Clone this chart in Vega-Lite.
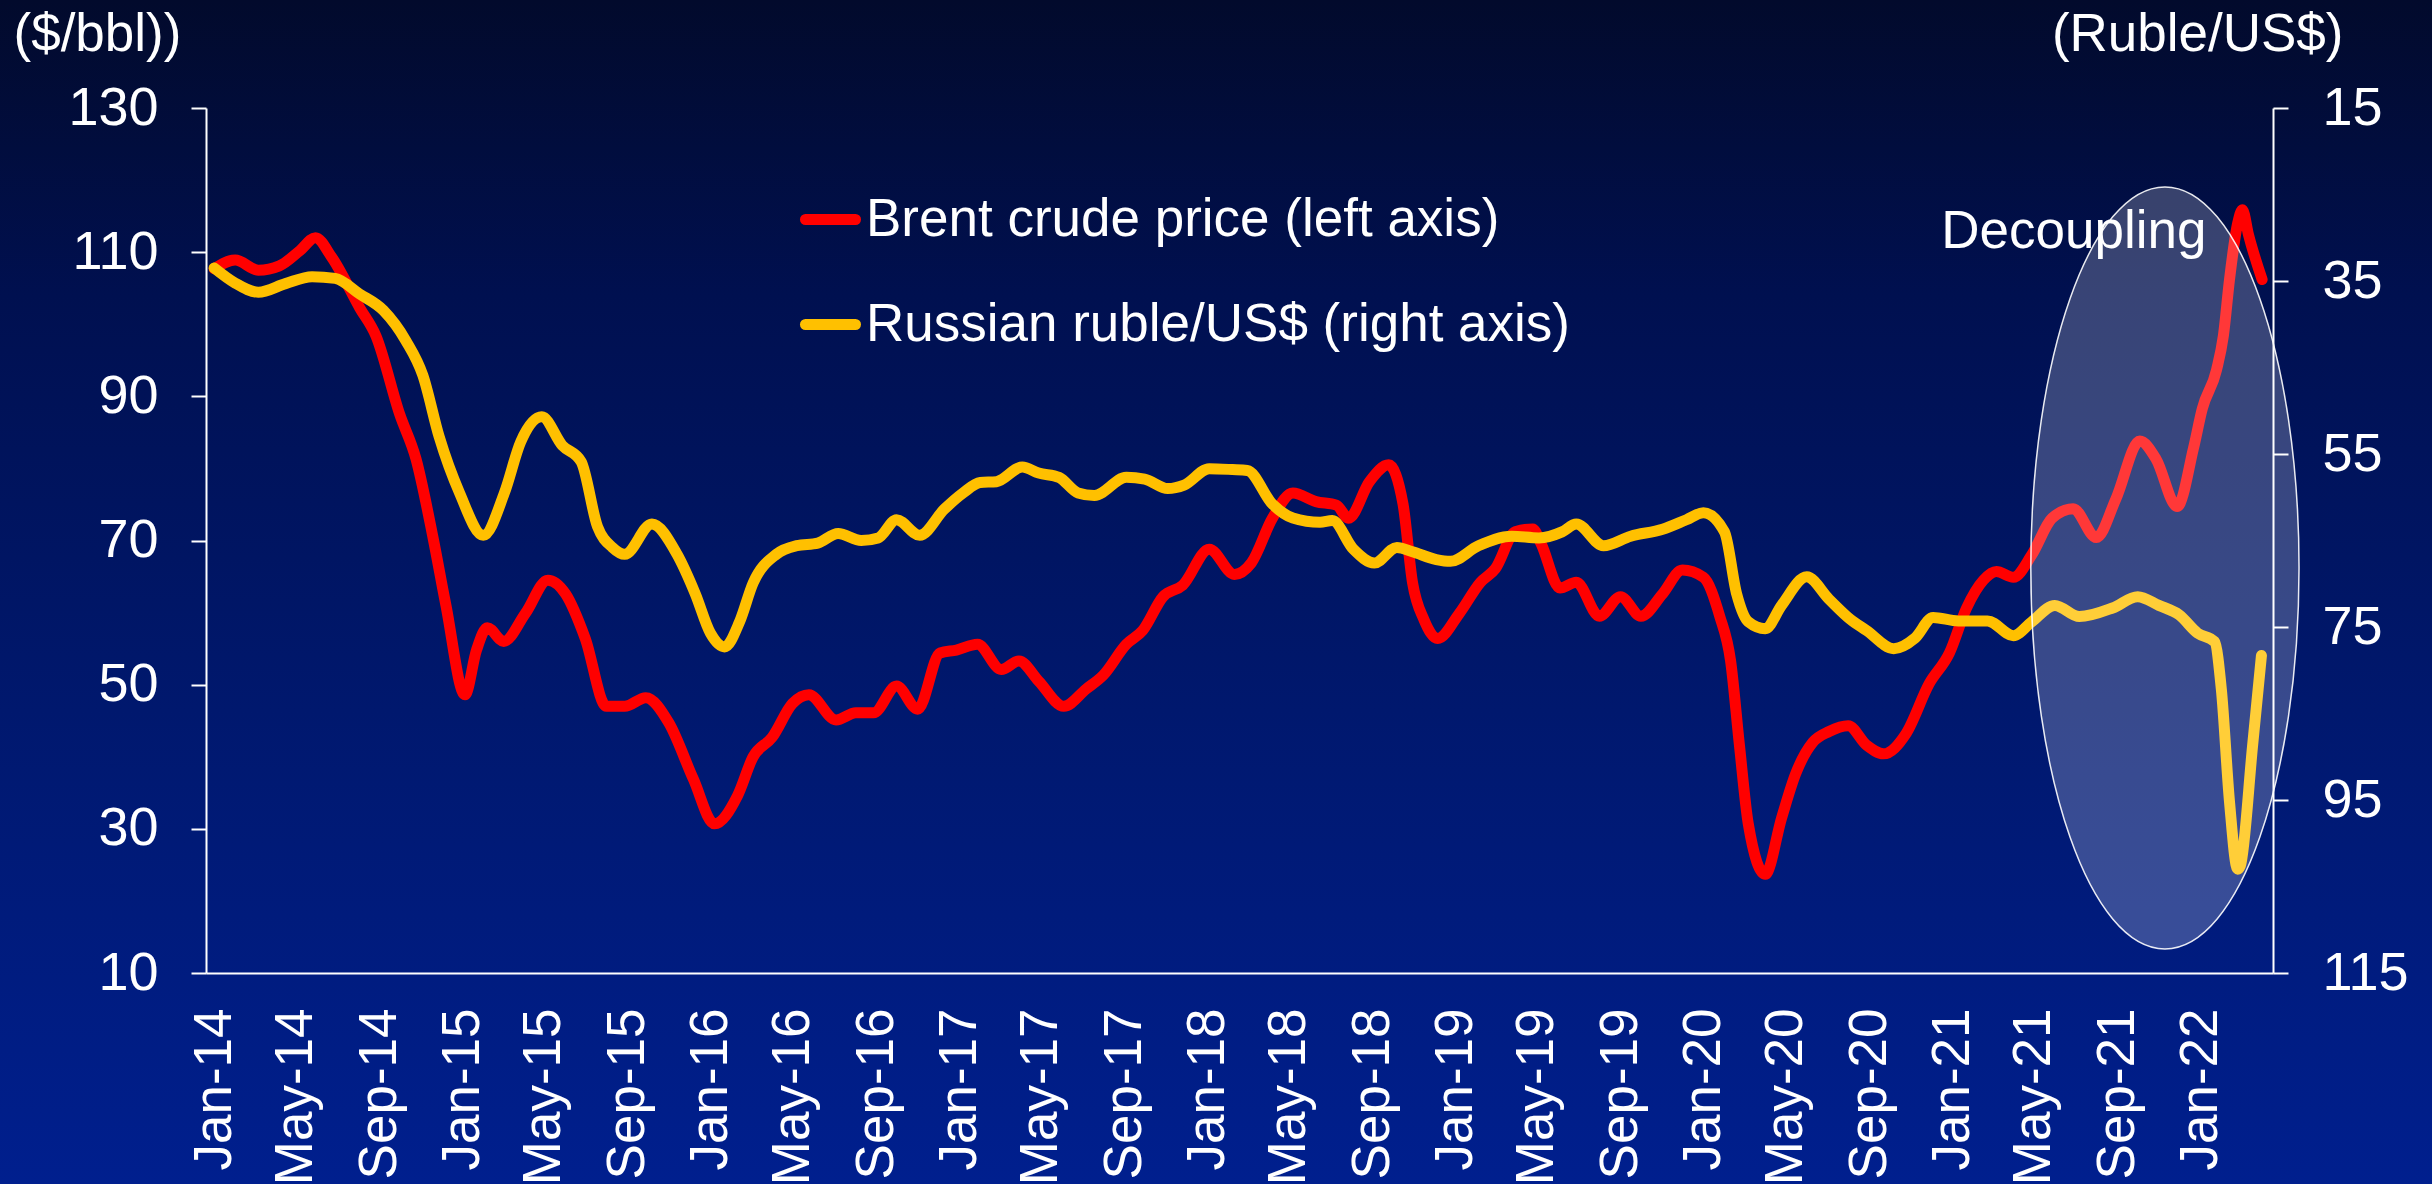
{
  "$schema": "https://vega.github.io/schema/vega-lite/v6.json",
  "width": 2067,
  "height": 865,
  "autosize": {"type": "none"},
  "padding": {"left": 206, "top": 108, "right": 159, "bottom": 211},
  "background": "#001050",
  "config": {
    "font": "Liberation Sans",
    "view": {"stroke": null},
    "axis": {
      "domainColor": "#ffffff", "domainWidth": 2,
      "tickColor": "#ffffff", "tickWidth": 2,
      "labelColor": "#ffffff", "labelFontSize": 53, "labelFont": "Liberation Sans",
      "titleColor": "#ffffff", "titleFontSize": 53, "titleFontWeight": "normal", "titleFont": "Liberation Sans",
      "grid": false, "labelOverlap": false, "labelFlush": false
    }
  },
  "datasets": {
    "bg": [{"x": "2012-06-01", "x2": "2023-12-01", "y": 150, "y2": -30}],
    "ellipse": [{"date": "2021-11-10", "value": 66.2}],
    "note": [{"date": "2020-12-16", "value": 110.6, "label": "Decoupling"}],
    "brent": [
      {"date": "2014-01-01", "value": 107.7}, {"date": "2014-02-01", "value": 108.9}, {"date": "2014-03-07", "value": 107.5},
      {"date": "2014-04-07", "value": 108.1}, {"date": "2014-05-07", "value": 110.2}, {"date": "2014-05-30", "value": 112.0},
      {"date": "2014-06-23", "value": 109.3}, {"date": "2014-08-03", "value": 102.3}, {"date": "2014-08-27", "value": 98.4},
      {"date": "2014-10-01", "value": 87.5}, {"date": "2014-10-25", "value": 81.3}, {"date": "2014-11-19", "value": 70.4},
      {"date": "2014-12-08", "value": 61.0}, {"date": "2015-01-05", "value": 48.6}, {"date": "2015-01-22", "value": 54.8},
      {"date": "2015-02-07", "value": 57.9}, {"date": "2015-03-03", "value": 56.0}, {"date": "2015-04-04", "value": 59.9},
      {"date": "2015-05-07", "value": 64.5}, {"date": "2015-06-02", "value": 62.6}, {"date": "2015-07-01", "value": 56.4},
      {"date": "2015-08-01", "value": 47.0}, {"date": "2015-08-28", "value": 47.0}, {"date": "2015-09-28", "value": 48.2},
      {"date": "2015-11-01", "value": 44.7}, {"date": "2015-12-07", "value": 36.9}, {"date": "2016-01-07", "value": 30.7},
      {"date": "2016-02-10", "value": 34.6}, {"date": "2016-03-04", "value": 40.0}, {"date": "2016-04-01", "value": 42.7},
      {"date": "2016-05-01", "value": 47.4}, {"date": "2016-05-25", "value": 48.6}, {"date": "2016-07-04", "value": 45.1},
      {"date": "2016-08-02", "value": 46.1}, {"date": "2016-08-28", "value": 46.1}, {"date": "2016-10-01", "value": 49.8},
      {"date": "2016-11-01", "value": 46.6}, {"date": "2016-12-04", "value": 54.4}, {"date": "2016-12-28", "value": 54.8},
      {"date": "2017-01-28", "value": 55.6}, {"date": "2017-03-04", "value": 52.1}, {"date": "2017-03-30", "value": 53.3},
      {"date": "2017-04-28", "value": 50.5}, {"date": "2017-06-04", "value": 47.0}, {"date": "2017-07-07", "value": 49.4},
      {"date": "2017-08-01", "value": 51.3}, {"date": "2017-09-04", "value": 55.6}, {"date": "2017-09-28", "value": 57.5},
      {"date": "2017-10-28", "value": 62.2}, {"date": "2017-11-26", "value": 63.8}, {"date": "2018-01-04", "value": 68.8},
      {"date": "2018-02-10", "value": 65.3}, {"date": "2018-03-07", "value": 66.9}, {"date": "2018-04-07", "value": 73.1},
      {"date": "2018-05-07", "value": 76.6}, {"date": "2018-06-10", "value": 75.4}, {"date": "2018-07-10", "value": 74.9},
      {"date": "2018-07-28", "value": 73.1}, {"date": "2018-08-28", "value": 78.2}, {"date": "2018-09-25", "value": 80.5},
      {"date": "2018-10-16", "value": 75.1}, {"date": "2018-10-30", "value": 64.2}, {"date": "2018-11-16", "value": 59.0},
      {"date": "2018-12-06", "value": 56.4}, {"date": "2019-01-07", "value": 59.9}, {"date": "2019-02-07", "value": 64.2},
      {"date": "2019-03-01", "value": 66.1}, {"date": "2019-03-30", "value": 71.2}, {"date": "2019-04-25", "value": 71.6},
      {"date": "2019-05-07", "value": 69.6}, {"date": "2019-06-04", "value": 63.4}, {"date": "2019-06-28", "value": 64.2},
      {"date": "2019-08-01", "value": 59.5}, {"date": "2019-09-01", "value": 62.2}, {"date": "2019-10-01", "value": 59.5},
      {"date": "2019-11-02", "value": 62.6}, {"date": "2019-12-01", "value": 65.9}, {"date": "2020-01-01", "value": 64.9},
      {"date": "2020-01-25", "value": 59.5}, {"date": "2020-02-10", "value": 53.3}, {"date": "2020-02-23", "value": 41.6},
      {"date": "2020-03-07", "value": 30.7}, {"date": "2020-04-01", "value": 23.7}, {"date": "2020-04-25", "value": 31.5},
      {"date": "2020-05-16", "value": 37.7}, {"date": "2020-06-10", "value": 42.0}, {"date": "2020-07-04", "value": 43.5},
      {"date": "2020-08-01", "value": 44.3}, {"date": "2020-08-28", "value": 41.6}, {"date": "2020-09-22", "value": 40.4},
      {"date": "2020-10-25", "value": 43.2}, {"date": "2020-11-28", "value": 50.1}, {"date": "2020-12-28", "value": 54.4},
      {"date": "2021-01-22", "value": 60.6}, {"date": "2021-02-16", "value": 64.5}, {"date": "2021-03-07", "value": 65.7},
      {"date": "2021-04-01", "value": 64.9}, {"date": "2021-04-28", "value": 68.0}, {"date": "2021-05-28", "value": 73.1},
      {"date": "2021-06-28", "value": 74.4}, {"date": "2021-08-01", "value": 70.4}, {"date": "2021-08-30", "value": 75.8},
      {"date": "2021-10-04", "value": 83.8}, {"date": "2021-10-28", "value": 81.3}, {"date": "2021-11-28", "value": 74.7},
      {"date": "2021-12-22", "value": 82.8}, {"date": "2022-01-04", "value": 88.3}, {"date": "2022-01-25", "value": 93.7},
      {"date": "2022-02-04", "value": 98.4}, {"date": "2022-02-13", "value": 106.2}, {"date": "2022-02-25", "value": 114.0},
      {"date": "2022-03-04", "value": 115.9}, {"date": "2022-03-13", "value": 112.4}, {"date": "2022-04-02", "value": 106.2}
    ],
    "ruble": [
      {"date": "2014-01-01", "value": 33.5}, {"date": "2014-01-31", "value": 35.2}, {"date": "2014-03-07", "value": 36.3},
      {"date": "2014-04-16", "value": 35.3}, {"date": "2014-05-25", "value": 34.5}, {"date": "2014-06-28", "value": 34.7},
      {"date": "2014-08-03", "value": 36.5}, {"date": "2014-09-07", "value": 38.4}, {"date": "2014-10-10", "value": 41.9},
      {"date": "2014-11-04", "value": 45.9}, {"date": "2014-11-28", "value": 53.0}, {"date": "2014-12-28", "value": 59.5},
      {"date": "2015-02-01", "value": 64.4}, {"date": "2015-03-04", "value": 59.5}, {"date": "2015-03-28", "value": 53.6},
      {"date": "2015-04-28", "value": 50.7}, {"date": "2015-05-28", "value": 54.0}, {"date": "2015-06-25", "value": 55.9},
      {"date": "2015-07-19", "value": 63.4}, {"date": "2015-08-10", "value": 65.8}, {"date": "2015-08-28", "value": 66.6},
      {"date": "2015-10-07", "value": 63.1}, {"date": "2015-11-13", "value": 66.6}, {"date": "2015-12-10", "value": 71.2},
      {"date": "2016-01-01", "value": 75.7}, {"date": "2016-01-22", "value": 77.3}, {"date": "2016-02-13", "value": 74.4},
      {"date": "2016-03-04", "value": 69.9}, {"date": "2016-04-07", "value": 66.6}, {"date": "2016-05-07", "value": 65.6},
      {"date": "2016-06-07", "value": 65.3}, {"date": "2016-07-07", "value": 64.2}, {"date": "2016-08-10", "value": 65.0},
      {"date": "2016-09-04", "value": 64.7}, {"date": "2016-10-01", "value": 62.6}, {"date": "2016-11-04", "value": 64.4},
      {"date": "2016-12-10", "value": 61.4}, {"date": "2017-01-07", "value": 59.5}, {"date": "2017-02-01", "value": 58.3},
      {"date": "2017-02-25", "value": 58.2}, {"date": "2017-04-04", "value": 56.5}, {"date": "2017-04-28", "value": 57.2},
      {"date": "2017-05-28", "value": 57.7}, {"date": "2017-06-25", "value": 59.5}, {"date": "2017-07-19", "value": 59.8},
      {"date": "2017-09-04", "value": 57.7}, {"date": "2017-10-01", "value": 57.9}, {"date": "2017-11-04", "value": 59.0},
      {"date": "2017-11-28", "value": 58.6}, {"date": "2018-01-04", "value": 56.7}, {"date": "2018-02-07", "value": 56.8},
      {"date": "2018-03-01", "value": 56.9}, {"date": "2018-04-07", "value": 60.8}, {"date": "2018-05-07", "value": 62.4},
      {"date": "2018-06-16", "value": 62.9}, {"date": "2018-07-04", "value": 62.7}, {"date": "2018-08-04", "value": 66.0},
      {"date": "2018-09-04", "value": 67.6}, {"date": "2018-10-07", "value": 65.8}, {"date": "2018-10-30", "value": 66.3},
      {"date": "2018-12-04", "value": 67.2}, {"date": "2018-12-25", "value": 67.4}, {"date": "2019-02-04", "value": 65.6},
      {"date": "2019-03-25", "value": 64.5}, {"date": "2019-05-04", "value": 64.7}, {"date": "2019-06-07", "value": 64.0},
      {"date": "2019-06-28", "value": 63.1}, {"date": "2019-08-07", "value": 65.6}, {"date": "2019-09-16", "value": 64.5},
      {"date": "2019-11-02", "value": 63.7}, {"date": "2019-12-07", "value": 62.6}, {"date": "2020-01-01", "value": 61.8},
      {"date": "2020-02-01", "value": 64.0}, {"date": "2020-02-19", "value": 71.2}, {"date": "2020-03-07", "value": 74.4},
      {"date": "2020-04-01", "value": 75.2}, {"date": "2020-04-25", "value": 72.5}, {"date": "2020-06-01", "value": 69.2},
      {"date": "2020-07-04", "value": 71.8}, {"date": "2020-08-04", "value": 74.1}, {"date": "2020-08-28", "value": 75.4},
      {"date": "2020-10-07", "value": 77.5}, {"date": "2020-11-07", "value": 76.3}, {"date": "2020-12-04", "value": 73.9},
      {"date": "2021-01-10", "value": 74.3}, {"date": "2021-02-22", "value": 74.3}, {"date": "2021-04-01", "value": 76.0},
      {"date": "2021-04-28", "value": 74.4}, {"date": "2021-06-01", "value": 72.5}, {"date": "2021-07-07", "value": 73.8},
      {"date": "2021-08-25", "value": 72.8}, {"date": "2021-10-01", "value": 71.5}, {"date": "2021-11-01", "value": 72.5},
      {"date": "2021-12-01", "value": 73.6}, {"date": "2021-12-28", "value": 75.7}, {"date": "2022-01-22", "value": 76.7},
      {"date": "2022-02-01", "value": 82.2}, {"date": "2022-02-13", "value": 95.2}, {"date": "2022-02-25", "value": 103.0},
      {"date": "2022-03-01", "value": 102.6}, {"date": "2022-03-19", "value": 88.7}, {"date": "2022-04-01", "value": 78.3}
    ]
  },
  "layer": [
    {
      "data": {"name": "bg"},
      "mark": {
        "type": "rect", "clip": false,
        "fill": {
          "gradient": "linear", "x1": 0, "y1": 0, "x2": 0, "y2": 1,
          "stops": [
            {"offset": 0, "color": "#020a2c"},
            {"offset": 0.028, "color": "#020a2c"},
            {"offset": 0.256, "color": "#001050"},
            {"offset": 0.575, "color": "#00186e"},
            {"offset": 0.94, "color": "#001f8e"},
            {"offset": 1, "color": "#001f8e"}
          ]
        }
      },
      "encoding": {
        "x": {"field": "x", "type": "temporal", "scale": {"type": "utc", "domain": [{"year": 2013, "month": 12, "date": 20, "utc": true}, {"year": 2022, "month": 4, "date": 18, "utc": true}]}},
        "x2": {"field": "x2"},
        "y": {"field": "y", "type": "quantitative", "scale": {"domain": [10, 130], "nice": false, "zero": false}, "axis": null},
        "y2": {"field": "y2"}
      }
    },
    {
      "data": {"name": "brent"},
      "mark": {"type": "line", "strokeWidth": 11, "interpolate": "monotone", "strokeCap": "round", "strokeJoin": "round"},
      "encoding": {
        "x": {
          "field": "date", "type": "temporal",
          "scale": {"type": "utc", "domain": [{"year": 2013, "month": 12, "date": 20, "utc": true}, {"year": 2022, "month": 4, "date": 18, "utc": true}]},
          "axis": {
            "title": null, "format": "%b-%y", "zindex": 2,
            "values": [
              {"year": 2014, "month": 1, "date": 1, "utc": true}, {"year": 2014, "month": 5, "date": 1, "utc": true}, {"year": 2014, "month": 9, "date": 1, "utc": true},
              {"year": 2015, "month": 1, "date": 1, "utc": true}, {"year": 2015, "month": 5, "date": 1, "utc": true}, {"year": 2015, "month": 9, "date": 1, "utc": true},
              {"year": 2016, "month": 1, "date": 1, "utc": true}, {"year": 2016, "month": 5, "date": 1, "utc": true}, {"year": 2016, "month": 9, "date": 1, "utc": true},
              {"year": 2017, "month": 1, "date": 1, "utc": true}, {"year": 2017, "month": 5, "date": 1, "utc": true}, {"year": 2017, "month": 9, "date": 1, "utc": true},
              {"year": 2018, "month": 1, "date": 1, "utc": true}, {"year": 2018, "month": 5, "date": 1, "utc": true}, {"year": 2018, "month": 9, "date": 1, "utc": true},
              {"year": 2019, "month": 1, "date": 1, "utc": true}, {"year": 2019, "month": 5, "date": 1, "utc": true}, {"year": 2019, "month": 9, "date": 1, "utc": true},
              {"year": 2020, "month": 1, "date": 1, "utc": true}, {"year": 2020, "month": 5, "date": 1, "utc": true}, {"year": 2020, "month": 9, "date": 1, "utc": true},
              {"year": 2021, "month": 1, "date": 1, "utc": true}, {"year": 2021, "month": 5, "date": 1, "utc": true}, {"year": 2021, "month": 9, "date": 1, "utc": true},
              {"year": 2022, "month": 1, "date": 1, "utc": true}
            ],
            "labelAngle": 270, "labelAlign": "right", "labelBaseline": "middle",
            "labelPadding": 35, "ticks": false, "tickSize": 0
          }
        },
        "y": {
          "field": "value", "type": "quantitative",
          "scale": {"domain": [10, 130], "nice": false, "zero": false},
          "axis": {
            "orient": "left", "values": [10, 30, 50, 70, 90, 110, 130], "zindex": 2,
            "tickSize": 15, "labelPadding": 33, "labelFontSize": 54,
            "title": "($/bbl))", "titleAngle": 0, "titleX": -193, "titleY": -58,
            "titleAlign": "left", "titleBaseline": "alphabetic"
          }
        },
        "color": {
          "datum": "Brent crude price (left axis)", "type": "nominal",
          "scale": {"domain": ["Brent crude price (left axis)", "Russian ruble/US$ (right axis)"], "range": ["#ff0000", "#ffc000"]},
          "legend": {
            "orient": "none", "legendX": 594, "legendY": 81, "title": null, "padding": 0,
            "symbolType": "stroke", "symbolStrokeWidth": 11, "symbolSize": 2500,
            "labelFontSize": 53, "labelColor": "#ffffff", "labelFont": "Liberation Sans",
            "labelOffset": 5, "rowPadding": 47, "labelLimit": 1000,
            "encode": {"symbols": {"update": {"strokeCap": {"value": "round"}}}}
          }
        }
      }
    },
    {
      "data": {"name": "ruble"},
      "mark": {"type": "line", "strokeWidth": 11, "interpolate": "monotone", "strokeCap": "round", "strokeJoin": "round"},
      "encoding": {
        "x": {"field": "date", "type": "temporal", "scale": {"type": "utc", "domain": [{"year": 2013, "month": 12, "date": 20, "utc": true}, {"year": 2022, "month": 4, "date": 18, "utc": true}]}},
        "y": {
          "field": "value", "type": "quantitative",
          "scale": {"domain": [15, 115], "reverse": true, "nice": false, "zero": false},
          "axis": {
            "orient": "right", "values": [15, 35, 55, 75, 95, 115], "zindex": 2,
            "tickSize": 15, "labelPadding": 34, "labelFontSize": 54,
            "title": "(Ruble/US$)", "titleAngle": 0, "titleX": 70, "titleY": -58,
            "titleAlign": "right", "titleBaseline": "alphabetic"
          }
        },
        "color": {"datum": "Russian ruble/US$ (right axis)", "type": "nominal"}
      }
    },
    {
      "data": {"name": "ellipse"},
      "mark": {
        "type": "point", "shape": "M -0.352 0 A 0.352 1 0 1 1 0.352 0 A 0.352 1 0 1 1 -0.352 0 Z",
        "size": 580644, "filled": true, "fill": "#ffffff", "fillOpacity": 0.22,
        "stroke": "#ffffff", "strokeWidth": 1.5, "strokeOpacity": 0.9, "opacity": 1
      },
      "encoding": {
        "x": {"field": "date", "type": "temporal", "scale": {"type": "utc", "domain": [{"year": 2013, "month": 12, "date": 20, "utc": true}, {"year": 2022, "month": 4, "date": 18, "utc": true}]}},
        "y": {"field": "value", "type": "quantitative", "scale": {"domain": [10, 130], "nice": false, "zero": false}, "axis": null}
      }
    },
    {
      "data": {"name": "note"},
      "mark": {"type": "text", "align": "left", "baseline": "alphabetic", "fontSize": 53, "color": "#ffffff", "font": "Liberation Sans"},
      "encoding": {
        "x": {"field": "date", "type": "temporal", "scale": {"type": "utc", "domain": [{"year": 2013, "month": 12, "date": 20, "utc": true}, {"year": 2022, "month": 4, "date": 18, "utc": true}]}},
        "y": {"field": "value", "type": "quantitative", "scale": {"domain": [10, 130], "nice": false, "zero": false}, "axis": null},
        "text": {"field": "label"}
      }
    }
  ],
  "resolve": {"scale": {"y": "independent"}}
}
